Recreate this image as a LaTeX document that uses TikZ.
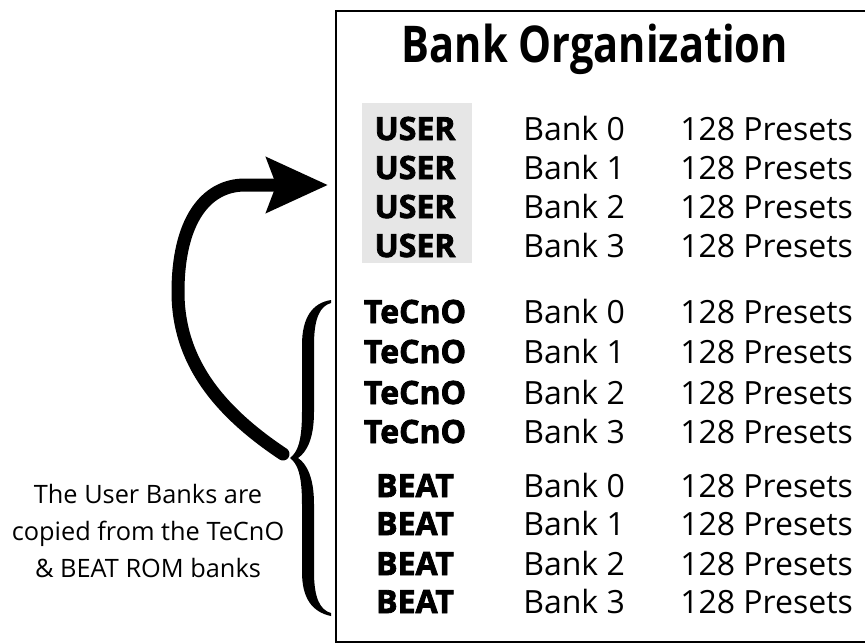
\documentclass[tikz,border=0pt]{standalone}
\usepackage{fontspec}
\usepackage{graphicx}
\usetikzlibrary{arrows.meta}
\setmainfont{Open Sans}
\newfontfamily\heavyfont[BoldFeatures={FakeBold=2.5}]{Open Sans}
\definecolor{usergray}{HTML}{E6E6E6}
\tikzset{
  lab/.style={anchor=base, inner sep=0pt, font=\heavyfont\bfseries\fontsize{24}{24}\selectfont},
  bankcol/.style={anchor=base west, inner sep=0pt, font=\fontsize{24}{24}\selectfont},
  capline/.style={anchor=base, inner sep=0pt, font=\fontsize{19}{19}\selectfont},
  bigarrow/.style={line width=9.75pt, line cap=round, -{Stealth[length=45.75pt,width=40.5pt,inset=7pt]}},
  frame/.style={line width=1.5pt}
}
\begin{document}
\begin{tikzpicture}[x=0.75pt,y=-0.75pt]
\useasboundingbox (0,0) rectangle (865,643);
% frame
\draw[frame] (880,11) -- (336,11) -- (336,642) -- (880,642);
% gray background for USER
\fill[usergray] (362,103) rectangle (472,263);
% title
\node[anchor=base, inner sep=0pt] (title) at (595,62) {\scalebox{0.82}[1]{\bfseries\fontsize{38}{38}\selectfont Bank Organization}};
% rows
\foreach \i/\y in {0/140,1/179,2/218,3/257}{
  \node[lab] (u\i) at (415,\y) {USER};
  \node[bankcol] (ub\i) at (523,\y) {Bank \i};
  \node[bankcol] (up\i) at (680,\y) {128 Presets};
}
\foreach \i/\y in {0/323,1/363,2/404,3/443}{
  \node[lab] (t\i) at (415,\y) {TeCnO};
  \node[bankcol] (tb\i) at (523,\y) {Bank \i};
  \node[bankcol] (tp\i) at (680,\y) {128 Presets};
}
\foreach \i/\y in {0/497,1/535,2/575,3/613}{
  \node[lab] (b\i) at (415,\y) {BEAT};
  \node[bankcol] (bb\i) at (523,\y) {Bank \i};
  \node[bankcol] (bp\i) at (680,\y) {128 Presets};
}
% caption
\node[capline] (cap1) at (148,503) {The User Banks are};
\node[capline] (cap2) at (148,540) {copied from the TeCnO};
\node[capline] (cap3) at (148,577) {\& BEAT ROM banks};
% brace
\fill (331,300) .. controls (312,303) and (302,318) .. (302,345)
  -- (302,412) .. controls (302,440) and (298,452) .. (290,458)
  .. controls (298,464) and (302,476) .. (302,504)
  -- (302,572) .. controls (302,598) and (312,612) .. (331,616)
  -- (331,613) .. controls (320,610) and (314,598) .. (314,572)
  -- (314,504) .. controls (314,478) and (307,464) .. (298,458)
  .. controls (307,452) and (314,438) .. (314,412)
  -- (314,345) .. controls (314,318) and (320,306) .. (331,303) -- cycle;
\coordinate (bracetip) at (290,458);
% arrow
\coordinate (arrowtail) at (283,454);
\coordinate (arrowbend) at (178,292);
\coordinate (arrowtop) at (245,185);
\coordinate (arrowtip) at (328,185);
\draw[bigarrow] (arrowtail) .. controls (220,412) and (178,362) .. (arrowbend)
  .. controls (178,222) and (205,185) .. (arrowtop) -- (arrowtip);
\end{tikzpicture}
\end{document}
